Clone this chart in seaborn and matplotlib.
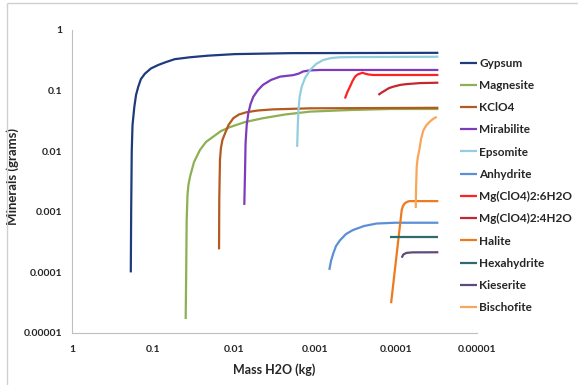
import numpy as np
import pandas as pd
import matplotlib
matplotlib.use("Agg")
import matplotlib.pyplot as plt
from matplotlib.lines import Line2D
from matplotlib.ticker import FixedLocator, FixedFormatter, LogLocator, NullFormatter
import seaborn as sns

# values (x = mass of water, kg ; y = minerals, grams)
gypsum_x = [0.188, 0.186, 0.183, 0.179, 0.17, 0.162, 0.152, 0.141, 0.126, 0.106, 0.086, 0.069,
            0.054, 0.0349, 0.021, 0.0098, 0.002, 3e-5]
gypsum_y = [1e-4, 0.001, 0.01, 0.027, 0.054, 0.0846, 0.116, 0.155, 0.19, 0.232, 0.265, 0.296,
            0.33, 0.355, 0.377, 0.40, 0.415, 0.42]

magnesite_x = [0.0395, 0.0389, 0.0384, 0.0375, 0.0365, 0.0349, 0.0312, 0.0263, 0.0222, 0.018,
               0.0145, 0.0112, 0.0073, 0.0044, 0.00235, 0.00115, 3.7e-4, 1.2e-4, 3e-5]
magnesite_y = [1.7e-5, 1.1e-4, 7.3e-4, 0.0019, 0.0028, 0.0038, 0.0066, 0.0105, 0.0142, 0.0174,
               0.0215, 0.025, 0.0303, 0.035, 0.0403, 0.045, 0.0478, 0.0497, 0.0497]

kclo4_x = [0.0153, 0.0152, 0.0149, 0.0145, 0.0139, 0.0129, 0.0117, 0.0102, 0.0087, 0.007,
           0.00506, 0.0033, 0.00115, 3e-5]
kclo4_y = [2.4e-4, 0.00157, 0.0072, 0.0113, 0.0153, 0.0197, 0.027, 0.035, 0.0403, 0.044,
           0.047, 0.049, 0.051, 0.052]

mirabilite_x = [0.00746, 0.0073, 0.0072, 0.00697, 0.00666, 0.00625, 0.00578, 0.00506, 0.0044,
                0.00349, 0.0027, 0.00186, 0.0016, 0.0014, 0.00118, 8.7e-4, 3e-5]
mirabilite_y = [0.0013, 0.0049, 0.0135, 0.027, 0.042, 0.060, 0.079, 0.102, 0.124,
                0.15, 0.17, 0.18, 0.19, 0.207, 0.215, 0.219, 0.219]

epsomite_x = [0.00166, 0.00163, 0.0016, 0.00155, 0.00146, 0.00133, 0.00115, 9.7e-4, 7.9e-4,
              6.3e-4, 4.9e-4, 2.8e-4, 3e-5]
epsomite_y = [0.0118, 0.027, 0.048, 0.078, 0.116, 0.161, 0.219, 0.275, 0.32,
              0.345, 0.355, 0.358, 0.362]

anhydrite_x = [6.66e-4, 6.34e-4, 5.94e-4, 5.5e-4, 4.9e-4, 4.14e-4, 3.4e-4, 2.48e-4, 1.74e-4,
               1.03e-4, 3e-5]
anhydrite_y = [1.1e-4, 1.55e-4, 2.07e-4, 2.73e-4, 3.4e-4, 4.3e-4, 5e-4, 5.83e-4, 6.4e-4,
               6.6e-4, 6.6e-4]

mg6_x = [4.27e-4, 3.98e-4, 3.7e-4, 3.44e-4, 3.2e-4, 2.99e-4, 2.8e-4, 2.59e-4, 2.4e-4, 2.16e-4,
         1.9e-4, 3e-5]
mg6_y = [0.074, 0.095, 0.116, 0.144, 0.17, 0.184, 0.19, 0.197, 0.19, 0.184, 0.181, 0.181]

mg4_x = [1.65e-4, 1.5e-4, 1.37e-4, 1.22e-4, 1.08e-4, 8.9e-5, 7.4e-5, 5.05e-5, 3e-5]
mg4_y = [0.085, 0.093, 0.1, 0.110, 0.116, 0.124, 0.128, 0.133, 0.135]

halite_x = [1.15e-4, 8.5e-5, 8.2e-5, 7.8e-5, 7.2e-5, 6.8e-5, 3e-5]
halite_y = [3.1e-5, 0.00107, 0.00125, 0.00138, 0.00147, 0.0015, 0.0015]

hexahydrite_x = [1.19e-4, 3e-5]
hexahydrite_y = [3.8e-4, 3.8e-4]

kieserite_x = [8.5e-5, 8.1e-5, 7.4e-5, 6.3e-5, 3e-5]
kieserite_y = [1.75e-4, 1.98e-4, 2.1e-4, 2.14e-4, 2.15e-4]

bischofite_x = [5.7e-5, 5.66e-5, 5.55e-5, 5.38e-5, 5.15e-5, 4.91e-5, 4.6e-5, 4.2e-5, 3.8e-5,
                3.49e-5, 3.14e-5]
bischofite_y = [0.00115, 0.00229, 0.0056, 0.008, 0.0105, 0.0159, 0.022, 0.027, 0.031,
                0.034, 0.037]

names = ["Gypsum", "Magnesite", "KClO4", "Mirabilite", "Epsomite", "Anhydrite",
         "Mg(ClO4)2:6H2O", "Mg(ClO4)2:4H2O", "Halite", "Hexahydrite", "Kieserite", "Bischofite"]
colors = ["#1F3B7E", "#8DB053", "#B45A1E", "#7F3BBE", "#92CEDE", "#5B8FD6",
          "#FF2222", "#C3282E", "#EE7A1E", "#2E6B6E", "#604A7B", "#F9A65A"]

series = [(gypsum_x, gypsum_y), (magnesite_x, magnesite_y), (kclo4_x, kclo4_y),
          (mirabilite_x, mirabilite_y), (epsomite_x, epsomite_y), (anhydrite_x, anhydrite_y),
          (mg6_x, mg6_y), (mg4_x, mg4_y), (halite_x, halite_y),
          (hexahydrite_x, hexahydrite_y), (kieserite_x, kieserite_y), (bischofite_x, bischofite_y)]

frames = []
for name, (xs, ys) in zip(names, series):
    frames.append(pd.DataFrame({"mass": xs, "minerals": ys, "mineral": name}))
df = pd.concat(frames, ignore_index=True)

sns.set_style("white")
plt.rcParams["font.family"] = ["Lato", "DejaVu Sans"]
plt.rcParams["lines.solid_joinstyle"] = "round"
plt.rcParams["lines.solid_capstyle"] = "butt"

fig = plt.figure(figsize=(5.78, 3.85), dpi=100)
ax = fig.add_axes([72 / 578, 1 - 333 / 385, (477 - 72) / 578, (333 - 30) / 385])

palette = dict(zip(names, colors))
sns.lineplot(data=df, x="mass", y="minerals", hue="mineral", hue_order=names,
             palette=palette, sort=False, estimator=None, units="mineral",
             linewidth=1.6, legend=False, ax=ax)

ax.set_xscale("log")
ax.set_yscale("log")
ax.set_xlim(1, 1e-5)
ax.set_ylim(1e-5, 1)

major = [1, 0.1, 0.01, 0.001, 0.0001, 0.00001]
major_labels = ["1", "0.1", "0.01", "0.001", "0.0001", "0.00001"]
ax.xaxis.set_major_locator(FixedLocator(major))
ax.xaxis.set_major_formatter(FixedFormatter(major_labels))
ax.yaxis.set_major_locator(FixedLocator(major))
ax.yaxis.set_major_formatter(FixedFormatter(major_labels))
ax.xaxis.set_minor_locator(LogLocator(base=10, subs=np.arange(2, 10)))
ax.yaxis.set_minor_locator(LogLocator(base=10, subs=np.arange(2, 10)))
ax.xaxis.set_minor_formatter(NullFormatter())
ax.yaxis.set_minor_formatter(NullFormatter())

for s in ["top", "right"]:
    ax.spines[s].set_visible(False)
for s in ["left", "bottom"]:
    ax.spines[s].set_color("#BFBFBF")
    ax.spines[s].set_linewidth(0.8)

ax.tick_params(axis="both", which="major", direction="out", length=3, width=0.6,
               color="#BFBFBF", labelsize=7.5)
ax.tick_params(axis="x", which="major", pad=6)
ax.tick_params(axis="y", which="major", pad=4)
ax.tick_params(axis="both", which="minor", direction="out", length=2, width=0.5,
               color="#BFBFBF")
for lab in ax.get_xticklabels() + ax.get_yticklabels():
    lab.set_fontweight("bold")

ax.set_xlabel("Mass H2O (kg)", fontsize=9, fontweight="bold", labelpad=6)
ax.set_ylabel("Minerals (grams)", fontsize=9.5, fontweight="bold")
ax.yaxis.set_label_coords(-0.13, 0.515)

handles = [Line2D([0], [0], color=c, lw=1.6) for c in colors]
fig.legend(handles, names, loc="upper left", bbox_to_anchor=(455 / 578, 1 - 53 / 385),
           frameon=False, handlelength=1.5, handletextpad=0.15,
           labelspacing=0.95, borderaxespad=0, prop={"weight": "bold", "size": 8.5})

# thin gray frame around the chart area, as in the original
fig.add_artist(Line2D([7 / 578, 1], [1 - 3 / 385, 1 - 3 / 385], color="#D0D0D0", lw=1))
fig.add_artist(Line2D([7 / 578, 7 / 578], [0, 1 - 3 / 385], color="#D0D0D0", lw=1))

fig.savefig("out.png", dpi=100)
